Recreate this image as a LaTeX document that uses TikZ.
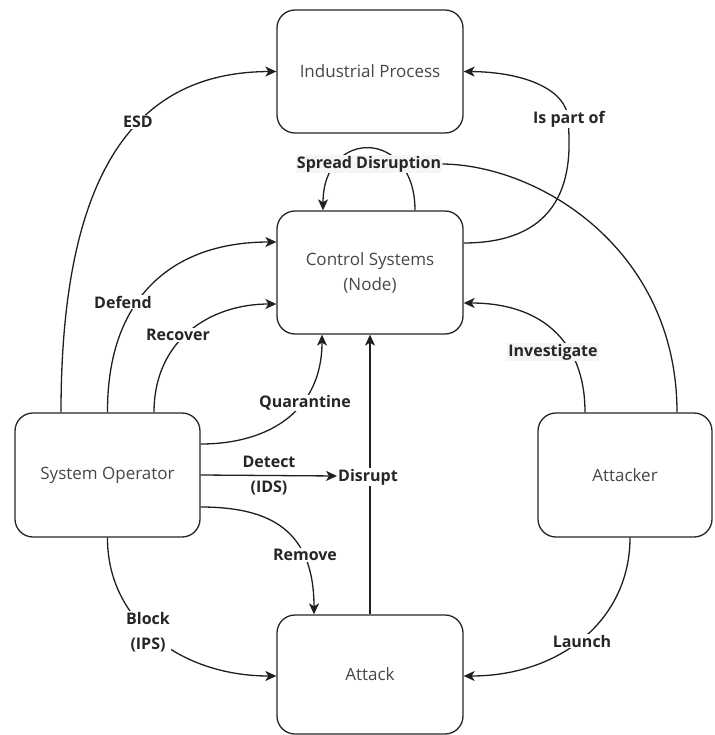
\documentclass[tikz,border=0pt]{standalone}
\usepackage{fontspec}
\setmainfont{Open Sans}
\usetikzlibrary{arrows.meta}
\begin{document}
\begin{tikzpicture}[x=1pt,y=-1pt,
  box/.style={draw=black!85, line width=1.3pt, rounded corners=18pt, fill=white,
    minimum width=186pt, minimum height=123pt, align=center, text=black!72,
    font=\fontsize{17}{25}\selectfont},
  conn/.style={draw=black!88, line width=1.3pt},
  arr/.style={conn, -{Stealth[length=11pt,width=10pt,inset=3pt]}},
  lbl/.style={fill=white, inner sep=1pt, align=center, text=black!85,
    font=\bfseries\fontsize{16}{25}\selectfont},
  shade/.style={lbl, fill=black!4}]
\useasboundingbox (0,0) rectangle (714,735);

% boxes
\node[box] (ip) at (370,71.5) {Industrial Process};
\node[box] (cs) at (370,272.5) {Control Systems\\(Node)};
\node[box, minimum width=185pt, minimum height=124pt] (so) at (107.5,475) {System Operator};
\node[box, minimum width=174pt, minimum height=124pt] (atk) at (625,475) {Attacker};
\node[box, minimum height=119pt] (atkn) at (370,674.5) {Attack};

% connectors
\draw[arr] ([xshift=-46.5pt]so.north) .. controls (61,150) and (150,72) .. (ip.west);
\draw[arr] (so.north) .. controls (107,300) and (170,242) .. ([yshift=30.5pt]cs.west);
\draw[arr] ([xshift=46.5pt]so.north) .. controls (154,340) and (210,304) .. ([yshift=-31.5pt]cs.west);
\draw[arr] ([yshift=31pt]so.east) .. controls (270,444) and (322,410) .. ([xshift=-48pt]cs.south);
\draw[arr] ([yshift=-32pt]so.east) .. controls (270,507) and (314,530) .. ([xshift=-56pt]atkn.north);
\draw[arr] (so.south) .. controls (107,620) and (180,676) .. ([yshift=-1.5pt]atkn.west);
\draw[arr] ([xshift=5pt]atk.south) .. controls (630,620) and (560,676) .. ([yshift=-1.5pt]atkn.east);
\draw[arr] ([xshift=-40pt]atk.north) .. controls (585,340) and (540,303) .. ([yshift=-30.5pt]cs.east);
\draw[arr] ([yshift=29.5pt]cs.east) .. controls (580,243) and (570,150) .. (568,119)
  .. controls (567,90) and (525,72) .. (ip.east);
\draw[arr] ([xshift=45pt]cs.north) .. controls (415,128) and (323,128) .. ([xshift=-47pt]cs.north);
\draw[arr] (atkn.north) -- (cs.south);

% connector labels
\node[lbl] (lesd) at (138,122) {ESD};
\node[lbl] (ldef) at (123,302) {Defend};
\node[lbl] (lrec) at (178,335) {Recover};
\node[lbl] (lqua) at (305,403) {Quarantine};
\node[lbl] (ldet) at (269,476) {Detect\\(IDS)};
\node[lbl] (disrupt) at (368,477) {Disrupt};
\node[lbl] (lrem) at (305,555) {Remove};
\node[lbl] (lblk) at (148,632) {Block\\(IPS)};
\node[lbl] (llau) at (582,641) {Launch};
\node[shade] (linv) at (553,352) {Investigate};
\node[lbl] (lpart) at (569,119) {Is part of};
\node[shade] (spread) at (369,164) {Spread Disruption};

% connectors ending on labels
\draw[arr] (so.east) -- (ldet.east -| disrupt.west);
\draw[conn] ([xshift=52pt]atk.north) .. controls (677,250) and (540,165) .. (spread.east);
\end{tikzpicture}
\end{document}
